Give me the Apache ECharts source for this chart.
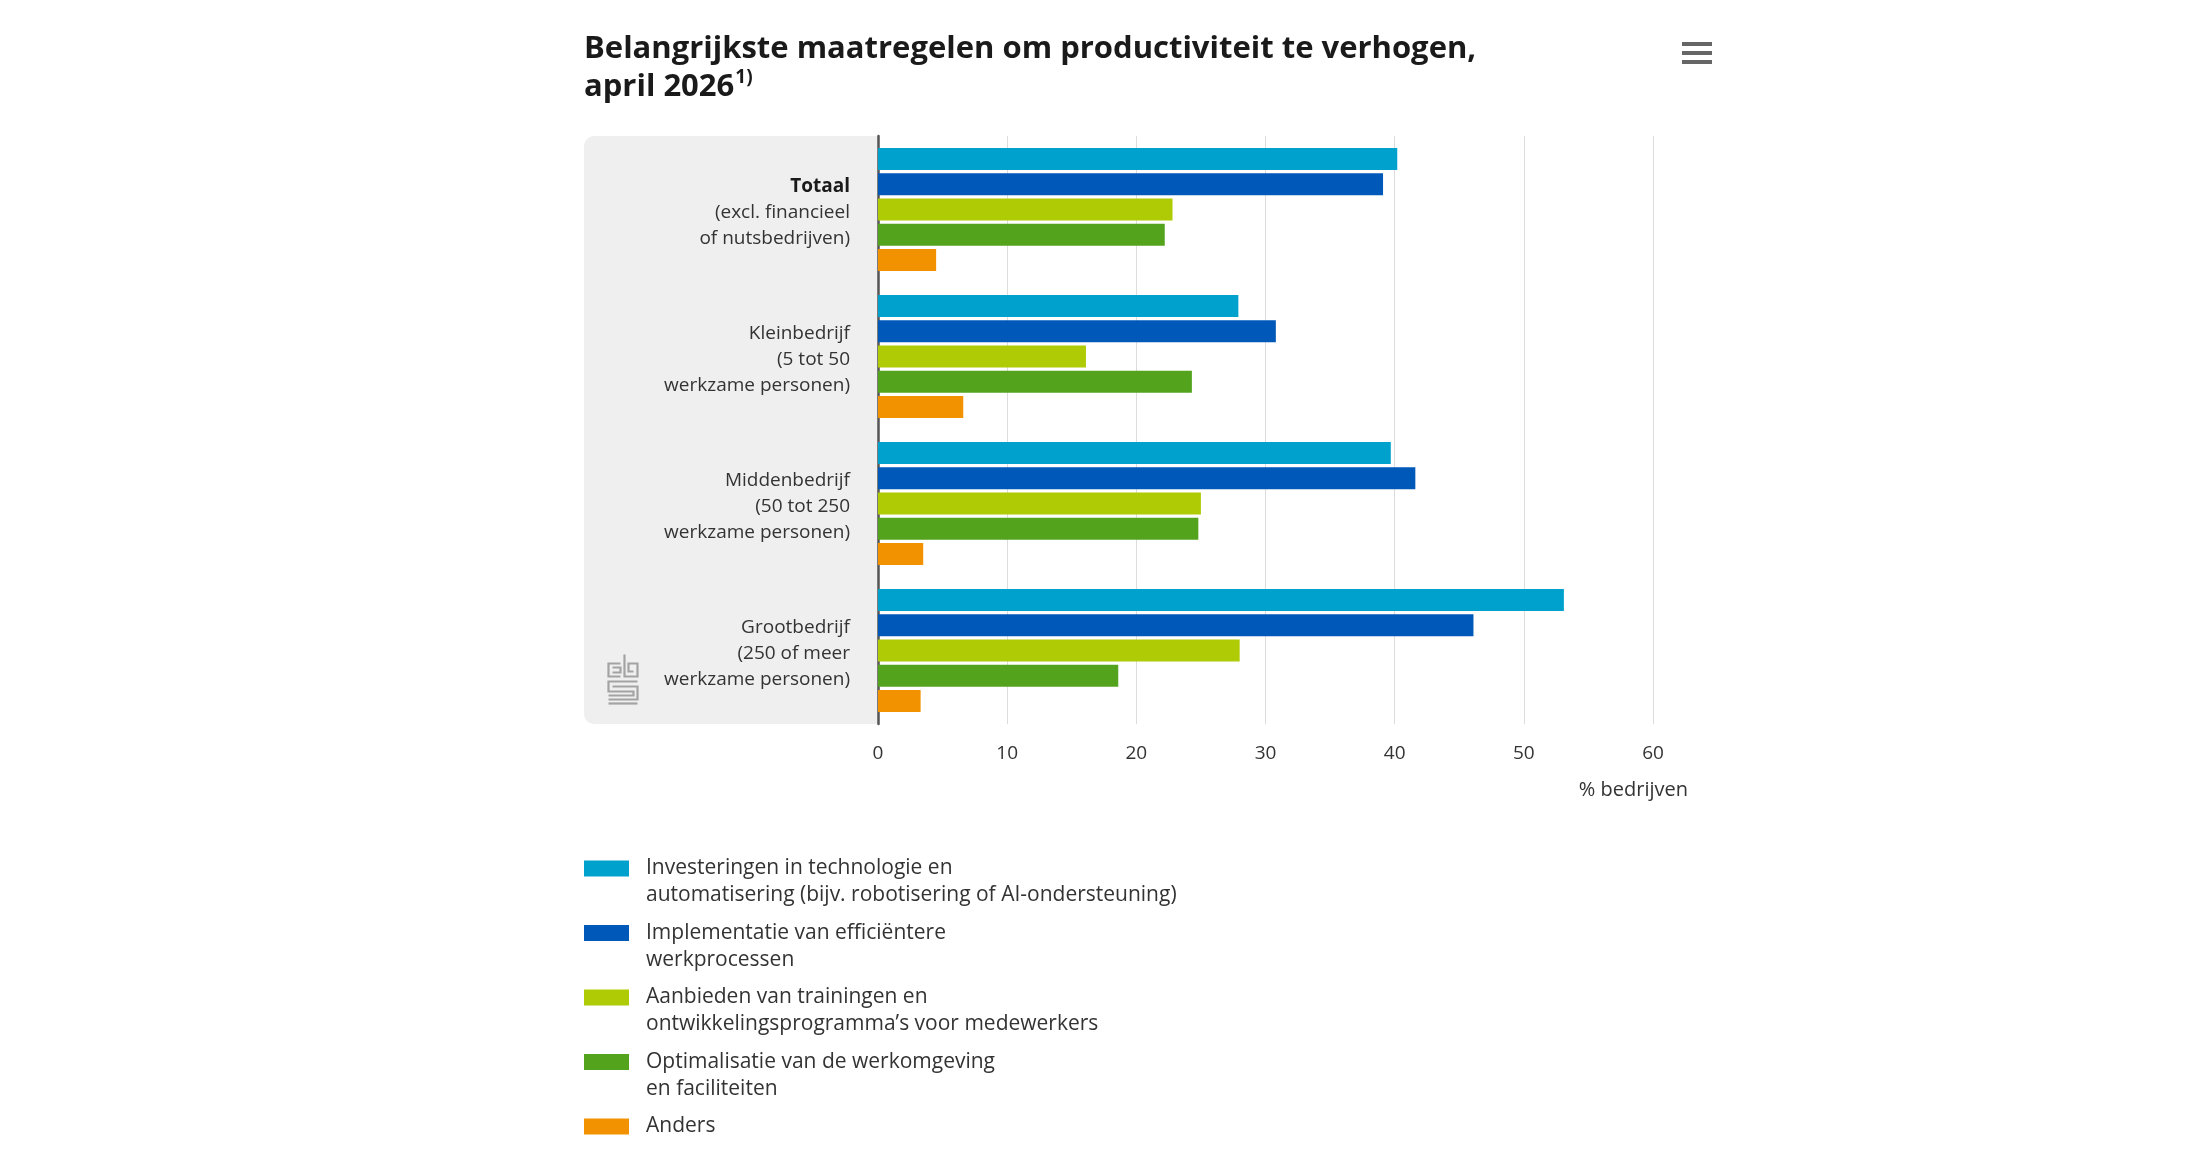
<!DOCTYPE html>
<html>
<head>
<meta charset="utf-8">
<style>
  html, body { margin: 0; padding: 0; background: #ffffff; }
  #chart { width: 2200px; height: 1158px; }
</style>
<script src="https://cdn.jsdelivr.net/npm/echarts@6/dist/echarts.min.js"></script>
</head>
<body>
<div id="chart"></div>
<script>
// ---- data ----
const categories = [
  'Totaal\n(excl. financieel\nof nutsbedrijven)',
  'Kleinbedrijf\n(5 tot 50\nwerkzame personen)',
  'Middenbedrijf\n(50 tot 250\nwerkzame personen)',
  'Grootbedrijf\n(250 of meer\nwerkzame personen)'
];
const seriesNames = [
  'Investeringen in technologie en\nautomatisering (bijv. robotisering of AI-ondersteuning)',
  'Implementatie van efficiëntere\nwerkprocessen',
  'Aanbieden van trainingen en\nontwikkelingsprogramma\u2019s voor medewerkers',
  'Optimalisatie van de werkomgeving\nen faciliteiten',
  'Anders'
];
const technologie = [40.2, 27.9, 39.7, 53.1];
const werkprocessen = [39.1, 30.8, 41.6, 46.1];
const trainingen = [22.8, 16.1, 25.0, 28.0];
const werkomgeving = [22.2, 24.3, 24.8, 18.6];
const anders = [4.5, 6.6, 3.5, 3.3];
const xTicks = [0, 10, 20, 30, 40, 50, 60];
const colors = ['#00a1cd', '#0058b8', '#afcb05', '#53a31d', '#f39200'];
const titleLine1 = 'Belangrijkste maatregelen om productiviteit te verhogen,';
const titleLine2 = 'april 2026';
const titleNote = '1)';
const axisName = '% bedrijven';

const seriesData = [technologie, werkprocessen, trainingen, werkomgeving, anders];
const FONT = "'Open Sans', 'Noto Sans', sans-serif";

const chart = echarts.init(document.getElementById('chart'), null, { renderer: 'canvas' });

// legend icon: visible rect aligned with first text line; two zero-area points fix the bounding box
const legendIcon = 'path://M0,0L0.01,0L0,0.01Z M58,54L57.99,54L58,53.99Z M0,5.5L45,5.5L45,21.5L0,21.5Z';

const option = {
  backgroundColor: '#ffffff',
  animation: false,
  title: {
    text: '{t|' + titleLine1 + '}\n{t|' + titleLine2 + '}{s|' + titleNote + '}',
    left: 584,
    top: 30,
    padding: 0,
    textStyle: {
      rich: {
        t: { fontFamily: FONT, fontSize: 31, fontWeight: 'bold', color: '#1a1a1a', lineHeight: 38 },
        s: { fontFamily: FONT, fontSize: 19, fontWeight: 'bold', color: '#1a1a1a', lineHeight: 22, verticalAlign: 'top', padding: [0, 0, 0, 1] }
      }
    }
  },
  grid: { left: 878, top: 136, width: 775, height: 588, containLabel: false },
  xAxis: {
    type: 'value',
    min: xTicks[0],
    max: xTicks[xTicks.length - 1],
    interval: xTicks[1] - xTicks[0],
    axisLine: { show: false },
    axisTick: { show: false },
    splitLine: { show: true, lineStyle: { color: '#dcdcdc', width: 1 } },
    axisLabel: { margin: 20, fontFamily: FONT, fontSize: 19, color: '#333333' },
    name: axisName,
    nameLocation: 'end',
    nameGap: 35,
    nameTextStyle: { fontFamily: FONT, fontSize: 20, color: '#333333', align: 'right', verticalAlign: 'top', padding: [56, 0, 0, 0] }
  },
  yAxis: {
    type: 'category',
    data: categories,
    inverse: true,
    axisLine: { show: true, lineStyle: { color: '#555555', width: 2.5 } },
    axisTick: { show: false },
    splitLine: { show: false },
    axisLabel: {
      margin: 28,
      fontFamily: FONT,
      fontSize: 19,
      color: '#333333',
      lineHeight: 26,
      align: 'right',
      padding: [6, 0, 0, 0],
      formatter: function (v) {
        const parts = v.split('\n');
        if (parts[0] === 'Totaal') {
          return '{b|' + parts[0] + '}\n' + parts.slice(1).join('\n');
        }
        return v;
      },
      rich: {
        b: { fontFamily: FONT, fontSize: 19, fontWeight: 'bold', color: '#1a1a1a', lineHeight: 26 }
      }
    }
  },
  legend: {
    show: true,
    orient: 'vertical',
    left: 584,
    top: 855,
    height: 400,
    padding: 0,
    itemWidth: 58,
    itemHeight: 54,
    itemGap: 10.5,
    icon: legendIcon,
    selectedMode: false,
    itemStyle: { borderWidth: 0 },
    formatter: function (name) {
      return name.indexOf('\n') < 0 ? name + '\n ' : name;
    },
    textStyle: { fontFamily: FONT, fontSize: 21, color: '#333333', lineHeight: 27, padding: [0, 0, 0, -1] },
    data: seriesNames
  },
  graphic: [
    {
      type: 'rect',
      z: -10,
      shape: { x: 584, y: 136, width: 294, height: 588, r: [10, 0, 0, 10] },
      style: { fill: '#efefef' },
      silent: true
    },
    {
      type: 'group',
      left: 1682,
      top: 42,
      children: [
        { type: 'rect', shape: { x: 0, y: 0, width: 30, height: 4 }, style: { fill: '#666666' } },
        { type: 'rect', shape: { x: 0, y: 9, width: 30, height: 4 }, style: { fill: '#666666' } },
        { type: 'rect', shape: { x: 0, y: 18, width: 30, height: 4 }, style: { fill: '#666666' } }
      ]
    },
    {
      type: 'group',
      left: 606,
      top: 652,
      silent: true,
      children: [
        { type: 'polyline', shape: { points: [[14, 9], [2, 9], [2, 22], [14, 22]] }, style: { stroke: '#a3a3a3', lineWidth: 2.2, fill: null } },
        { type: 'polyline', shape: { points: [[6, 13], [14, 13], [14, 18], [6, 18]] }, style: { stroke: '#a3a3a3', lineWidth: 2.2, fill: null } },
        { type: 'polyline', shape: { points: [[18, 0], [18, 22], [31, 22], [31, 9], [22, 9], [22, 17], [27, 17]] }, style: { stroke: '#a3a3a3', lineWidth: 2.2, fill: null } },
        { type: 'polyline', shape: { points: [[31, 27], [2, 27], [2, 37], [27, 37], [27, 41], [2, 41]] }, style: { stroke: '#a3a3a3', lineWidth: 2.2, fill: null } },
        { type: 'polyline', shape: { points: [[2, 45], [31, 45], [31, 32], [6, 32]] }, style: { stroke: '#a3a3a3', lineWidth: 2.2, fill: null } },
        { type: 'polyline', shape: { points: [[2, 49], [31, 49]] }, style: { stroke: '#a3a3a3', lineWidth: 2.2, fill: null } }
      ]
    }
  ],
  series: seriesNames.map(function (name, i) {
    return {
      name: name,
      type: 'bar',
      data: seriesData[i],
      barWidth: 22,
      barGap: '15%',
      itemStyle: { color: colors[i] },
      emphasis: { disabled: true }
    };
  })
};

chart.setOption(option);
</script>
</body>
</html>
